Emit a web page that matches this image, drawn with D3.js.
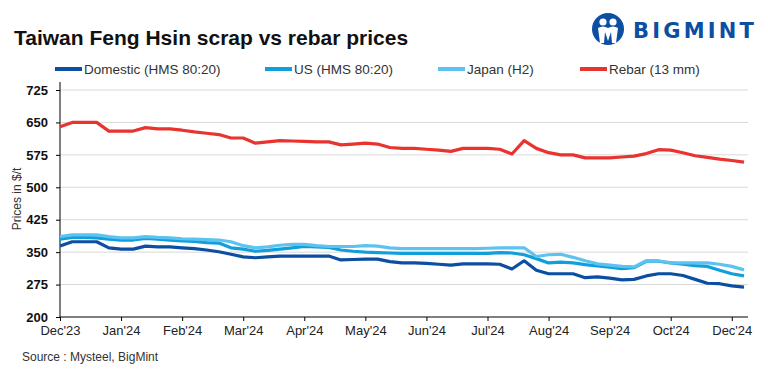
<!DOCTYPE html>
<html>
<head>
<meta charset="utf-8">
<script src="https://cdn.jsdelivr.net/npm/d3@7"></script>
<style>
  body { margin: 0; background: #fff; }
  text { font-family: "Liberation Sans", Arial, sans-serif; }
</style>
</head>
<body>
<script>
// weekly prices, $/t
const weeks = d3.range(57);  // 57 weekly points
const tickLabels = ["Dec'23", "Jan'24", "Feb'24", "Mar'24", "Apr'24", "May'24",
  "Jun'24", "Jul'24", "Aug'24", "Sep'24", "Oct'24", "Dec'24"];
const tickWeeks = [0, 5, 10, 15, 20, 25, 30, 35, 40, 45, 50, 55];
const yTicks = [200, 275, 350, 425, 500, 575, 650, 725];

const domestic = [364, 374, 374, 374, 360, 357, 357, 364, 362, 362, 360, 358, 355, 351, 345,
  339, 337, 339, 341, 341, 341, 341, 341, 332, 333, 334, 334, 328, 325, 325,
  324, 322, 320, 323, 323, 323, 322, 311, 330, 308, 300, 300, 300, 291, 293,
  290, 286, 287, 295, 300, 300, 296, 287, 278, 277, 272, 269];
const us = [380, 384, 384, 383, 380, 378, 378, 382, 380, 378, 376, 375, 372, 371, 360,
  357, 352, 354, 357, 360, 363, 362, 361, 355, 352, 350, 349, 348, 347, 347,
  347, 347, 347, 347, 347, 347, 349, 348, 344, 335, 325, 327, 325, 321, 318,
  315, 312, 314, 329, 329, 325, 322, 319, 317, 308, 300, 295];
const japan = [386, 390, 390, 390, 386, 383, 383, 386, 384, 383, 381, 380, 379, 378, 374,
  365, 360, 362, 366, 368, 368, 365, 363, 363, 363, 365, 364, 360, 358, 358,
  358, 358, 358, 358, 358, 359, 360, 360, 360, 340, 344, 345, 338, 330, 323,
  320, 317, 316, 330, 330, 325, 325, 325, 325, 322, 317, 309];
const rebar = [640, 650, 650, 650, 630, 630, 630, 638, 635, 635, 632, 628, 625, 622, 614,
  614, 602, 605, 608, 607, 606, 605, 605, 598, 600, 602, 600, 592, 590, 590,
  588, 586, 583, 590, 590, 590, 588, 577, 608, 590, 580, 575, 575, 568, 568,
  568, 570, 572, 578, 587, 586, 580, 573, 569, 565, 562, 558];

const series = [
  { name: "Domestic (HMS 80:20)", values: domestic, color: "#0b4ea2" },
  { name: "US (HMS 80:20)", values: us, color: "#109fdb" },
  { name: "Japan (H2)", values: japan, color: "#5cc3f0" },
  { name: "Rebar (13 mm)", values: rebar, color: "#e8332f" }
];

const W = 768, H = 384;
const svg = d3.select("body").append("svg")
  .attr("width", W).attr("height", H);

const x = d3.scalePoint().domain(weeks).range([60, 744]);
const y = d3.scaleLinear().domain([200, 725]).range([317, 90]);

// title
svg.append("text")
  .attr("x", 14).attr("y", 45)
  .attr("font-size", 21).attr("font-weight", "bold").attr("fill", "#111")
  .text("Taiwan Feng Hsin scrap vs rebar prices");

// logo
const logo = svg.append("g").attr("transform", "translate(608,29)");
logo.append("circle").attr("r", 16).attr("fill", "#0b4ea2");
logo.append("circle").attr("cx", -5).attr("cy", -7).attr("r", 3.6).attr("fill", "#fff");
logo.append("circle").attr("cx", 5).attr("cy", -7).attr("r", 3.6).attr("fill", "#fff");
logo.append("path")
  .attr("d", "M-10,-1 Q-5,-4 0,-1 Q5,-4 10,-1 L8,14 L4,14 L3,3 L0,12 L-3,3 L-4,14 L-8,14 Z")
  .attr("fill", "#fff");
svg.append("text")
  .attr("x", 633).attr("y", 38)
  .attr("font-size", 21).attr("font-weight", "bold").attr("fill", "#0b4ea2")
  .attr("letter-spacing", 3.2)
  .style("font-family", "'DejaVu Sans', sans-serif")
  .text("BIGMINT");

// legend
const legX = [55, 265, 438, 580];
const leg = svg.selectAll(".leg").data(series).enter().append("g")
  .attr("class", "leg")
  .attr("transform", (d, i) => "translate(" + legX[i] + ",69)");
leg.append("line").attr("x1", 0).attr("x2", 27)
  .attr("stroke", d => d.color).attr("stroke-width", 4);
leg.append("text").attr("x", 29).attr("y", 4.5)
  .attr("font-size", 13.5).attr("fill", "#333")
  .text(d => d.name);

// grid
svg.append("g").selectAll("line").data(yTicks.slice(1)).enter().append("line")
  .attr("x1", 60).attr("x2", 748)
  .attr("y1", d => y(d)).attr("y2", d => y(d))
  .attr("stroke", "#d9d9d9").attr("stroke-width", 1);

// y axis
const yAxis = svg.append("g").attr("transform", "translate(60,0)")
  .call(d3.axisLeft(y).tickValues(yTicks).tickSize(4).tickSizeOuter(0));
yAxis.select(".domain").attr("d", "M0,82V317").attr("stroke", "#000");
yAxis.selectAll(".tick line").attr("stroke", "#000");
yAxis.selectAll(".tick text")
  .attr("x", -12)
  .attr("font-size", 13).attr("font-weight", "bold").attr("fill", "#111")
  .style("font-family", "'Liberation Sans', Arial, sans-serif");

svg.append("text")
  .attr("transform", "translate(21,199) rotate(-90)")
  .attr("text-anchor", "middle")
  .attr("font-size", 12).attr("fill", "#333")
  .text("Prices in $/t");

// x axis
const xAxis = svg.append("g").attr("transform", "translate(0,317)")
  .call(d3.axisBottom(x).tickValues(tickWeeks).tickSize(4).tickSizeOuter(0)
    .tickFormat((d, i) => tickLabels[i]));
xAxis.select(".domain").attr("d", "M60,0H748").attr("stroke", "#000");
xAxis.selectAll(".tick line").attr("stroke", "#000");
xAxis.selectAll(".tick text")
  .attr("y", 9)
  .attr("font-size", 13).attr("fill", "#222")
  .style("font-family", "'Liberation Sans', Arial, sans-serif");

// lines
const line = d3.line().x((d, i) => x(weeks[i])).y(d => y(d));
svg.append("g").selectAll("path").data(series).enter().append("path")
  .attr("d", d => line(d.values))
  .attr("fill", "none")
  .attr("stroke", d => d.color)
  .attr("stroke-width", 3.2)
  .attr("stroke-linejoin", "round");

// source
svg.append("text")
  .attr("x", 22).attr("y", 361)
  .attr("font-size", 12).attr("fill", "#333")
  .text("Source : Mysteel, BigMint");
</script>
</body>
</html>
